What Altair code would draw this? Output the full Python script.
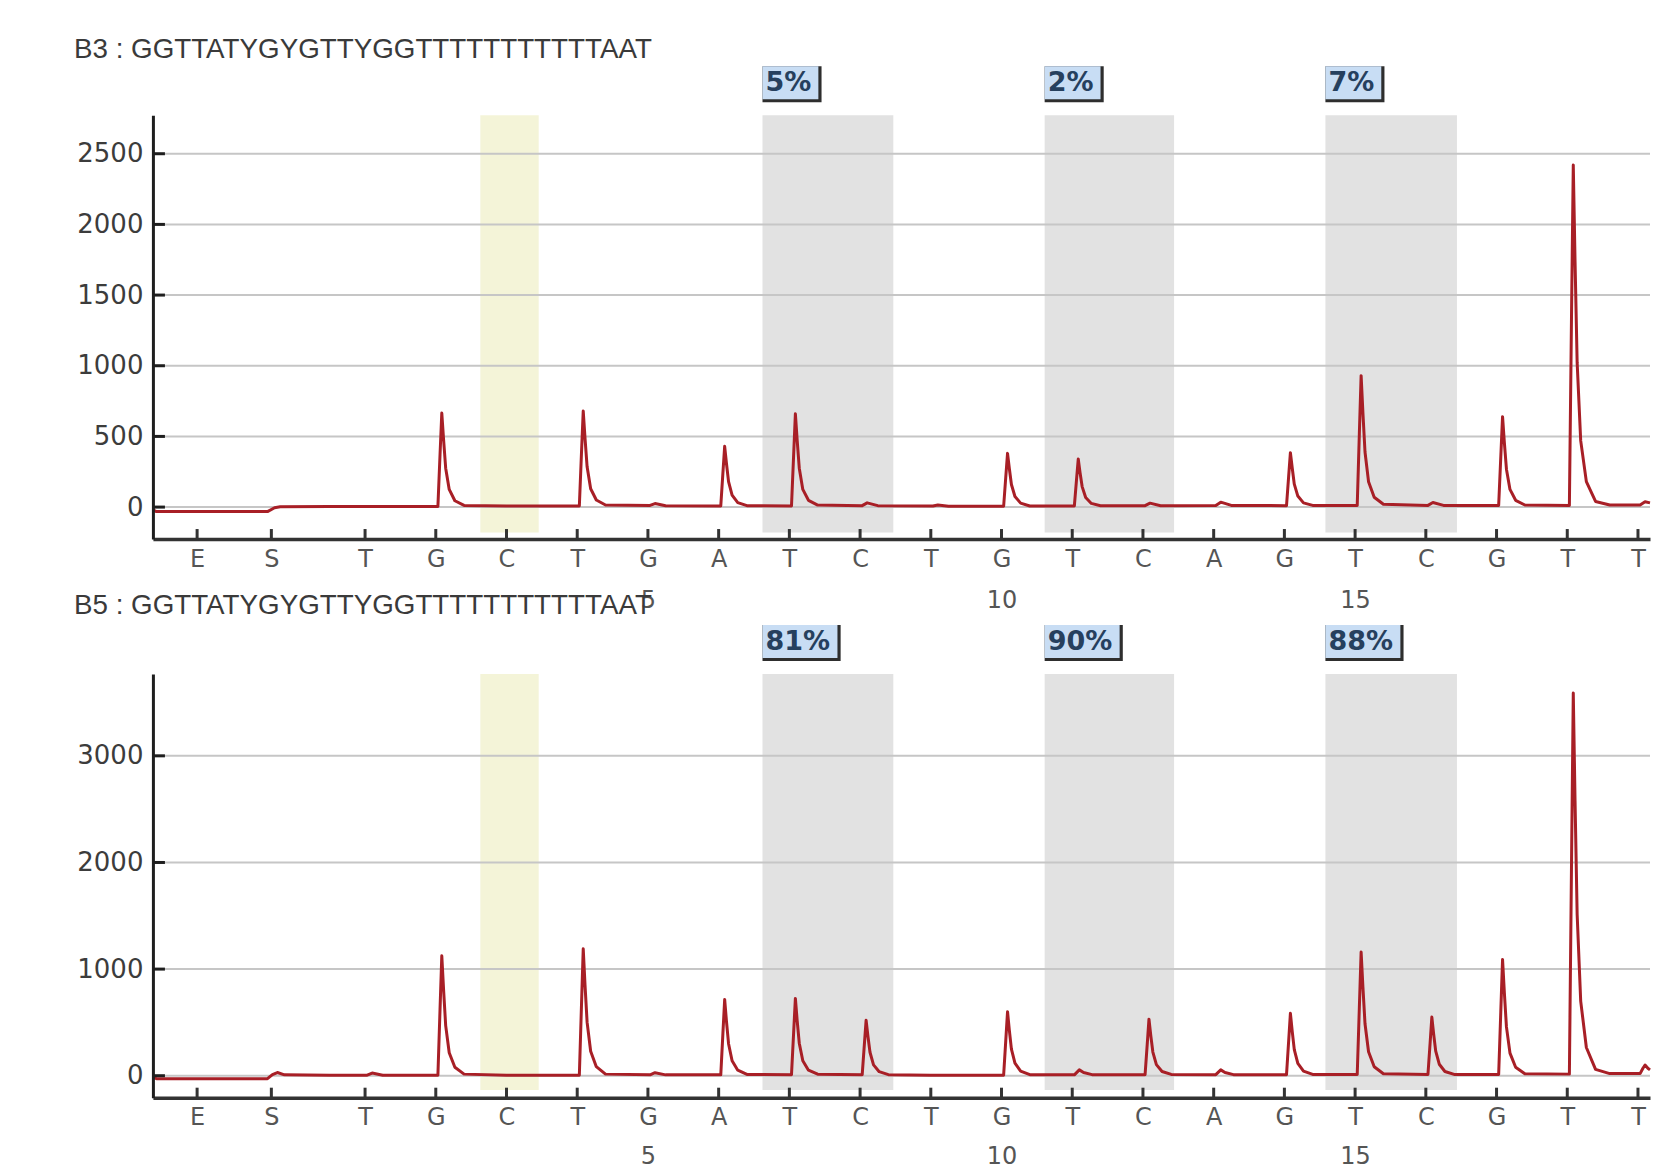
import altair as alt
import pandas as pd

# ---------------- data ----------------
DISP_LABELS = ["E", "S", "T", "G", "C", "T", "G", "A", "T", "C", "T",
               "G", "T", "C", "A", "G", "T", "C", "G", "T", "T"]
DISP_POS = [-1.375, -0.325, 1, 2, 3, 4, 5, 6, 7, 8, 9, 10,
            11, 12, 13, 14, 15, 16, 17, 18, 19]
POS_NUMBERS = [5, 10, 15]

X_DOMAIN = [-2, 19.17]

GRAY_START = [6.62, 10.61, 14.58]
GRAY_END = [8.47, 12.44, 16.44]
YELLOW_START = [2.63]
YELLOW_END = [3.455]

TOP_TITLE = "B3 : GGTTATYGYGTTYGGTTTTTTTTTTTAAT"
BOTTOM_TITLE = "B5 : GGTTATYGYGTTYGGTTTTTTTTTTTAAT"
TOP_PCT = ["5%", "2%", "7%"]
BOTTOM_PCT = ["81%", "90%", "88%"]

TOP_YTICKS = [0, 500, 1000, 1500, 2000, 2500]
BOTTOM_YTICKS = [0, 1000, 2000, 3000]
TOP_YDOMAIN = [-226, 2772]
BOTTOM_YDOMAIN = [-206, 3768]
TOP_SHADE_BOTTOM = -180
BOTTOM_SHADE_BOTTOM = -135

TOP_TRACE = [
    (-2.00, -20), (-1.95, -32), (-0.38, -32), (-0.28, -5), (-0.20, 2), (0.50, 5), (1.00, 5),
    (2.03, 5), (2.06, 370), (2.085, 665), (2.11, 480), (2.14, 275), (2.19, 125), (2.27, 45), (2.40, 12),
    (3.00, 8),
    (4.03, 8), (4.06, 380), (4.085, 680), (4.11, 490), (4.14, 285), (4.19, 130), (4.27, 50), (4.40, 15),
    (5.03, 12), (5.10, 25), (5.25, 10),
    (6.03, 8), (6.06, 240), (6.085, 430), (6.11, 310), (6.14, 180), (6.19, 85), (6.27, 32), (6.40, 10),
    (7.03, 8), (7.06, 365), (7.085, 660), (7.11, 475), (7.14, 275), (7.19, 125), (7.27, 48), (7.40, 14),
    (8.03, 10), (8.10, 30), (8.25, 10),
    (9.03, 8), (9.10, 15), (9.25, 6),
    (10.03, 6), (10.06, 212), (10.085, 380), (10.11, 275), (10.14, 160), (10.19, 75), (10.27, 28), (10.40, 8),
    (11.03, 8), (11.06, 190), (11.085, 340), (11.11, 245), (11.14, 145), (11.19, 68), (11.27, 26), (11.40, 10),
    (12.03, 10), (12.10, 28), (12.25, 10),
    (13.03, 12), (13.10, 35), (13.25, 12),
    (14.03, 10), (14.06, 215), (14.085, 385), (14.11, 280), (14.14, 162), (14.19, 78), (14.27, 30), (14.40, 12),
    (15.03, 12), (15.06, 520), (15.085, 930), (15.11, 670), (15.14, 390), (15.19, 180), (15.27, 70), (15.40, 20),
    (16.03, 12), (16.10, 32), (16.25, 12),
    (17.03, 12), (17.06, 355), (17.085, 640), (17.11, 460), (17.14, 268), (17.19, 125), (17.27, 48), (17.40, 15),
    (18.03, 12), (18.06, 1350), (18.085, 2420), (18.11, 1740), (18.14, 1020), (18.19, 470), (18.27, 180),
    (18.40, 40), (18.60, 15),
    (19.03, 15), (19.10, 38), (19.17, 30),
]

BOTTOM_TRACE = [
    (-2.00, -15), (-1.95, -28), (-0.38, -28), (-0.31, 10), (-0.24, 30), (-0.14, 8), (0.50, 5),
    (1.03, 5), (1.10, 25), (1.25, 5),
    (2.03, 5), (2.06, 620), (2.085, 1125), (2.11, 810), (2.14, 470), (2.19, 215), (2.27, 80), (2.40, 15),
    (3.00, 5),
    (4.03, 5), (4.06, 655), (4.085, 1190), (4.11, 855), (4.14, 500), (4.19, 230), (4.27, 85), (4.40, 15),
    (5.03, 8), (5.10, 28), (5.25, 8),
    (6.03, 8), (6.06, 395), (6.085, 715), (6.11, 515), (6.14, 300), (6.19, 140), (6.27, 52), (6.40, 12),
    (7.03, 10), (7.06, 400), (7.085, 725), (7.11, 520), (7.14, 305), (7.19, 140), (7.27, 52), (7.40, 14),
    (8.03, 10), (8.06, 290), (8.085, 520), (8.11, 375), (8.14, 220), (8.19, 102), (8.27, 38), (8.40, 10),
    (9.00, 5),
    (10.03, 5), (10.06, 330), (10.085, 600), (10.11, 430), (10.14, 250), (10.19, 118), (10.27, 44), (10.40, 10),
    (11.03, 8), (11.10, 55), (11.16, 30), (11.28, 10),
    (12.03, 10), (12.06, 292), (12.085, 530), (12.11, 380), (12.14, 222), (12.19, 104), (12.27, 40), (12.40, 12),
    (13.03, 10), (13.10, 55), (13.16, 30), (13.28, 10),
    (14.03, 10), (14.06, 322), (14.085, 585), (14.11, 420), (14.14, 245), (14.19, 115), (14.27, 43), (14.40, 12),
    (15.03, 12), (15.06, 640), (15.085, 1160), (15.11, 835), (15.14, 487), (15.19, 225), (15.27, 84), (15.40, 18),
    (16.03, 12), (16.06, 302), (16.085, 550), (16.11, 395), (16.14, 230), (16.19, 108), (16.27, 40), (16.40, 12),
    (17.03, 12), (17.06, 600), (17.085, 1090), (17.11, 785), (17.14, 458), (17.19, 212), (17.27, 80), (17.40, 18),
    (18.03, 15), (18.06, 1980), (18.085, 3590), (18.11, 2580), (18.14, 1510), (18.19, 700), (18.27, 265),
    (18.40, 60), (18.60, 20),
    (19.03, 20), (19.07, 70), (19.10, 100), (19.14, 70), (19.17, 55),
]

# ---------------- styling ----------------
PLOT_W = 1498
PLOT_H = 424
TRACE_COLOR = "#a81f26"
GRID_COLOR = "#c6c6c6"
GRAY_FILL = "#e2e2e2"
YELLOW_FILL = "#f4f4d8"
BOX_FILL = "#c8ddf4"
BOX_EDGE = "#2e2e2e"
BOX_TEXT = "#26405e"


def build_label_expr():
    expr = "''"
    for p, lab in reversed(list(zip(DISP_POS, DISP_LABELS))):
        if p in POS_NUMBERS:
            txt = f"['{lab}', '{p}']"
        else:
            txt = f"'{lab}'"
        expr = f"(abs(datum.value - ({p})) < 0.01 ? {txt} : {expr})"
    return expr


LABEL_EXPR = build_label_expr()


def panel(title, title_y, trace, pct, yticks, ydomain, shade_bottom, line_height):
    ymin, ymax = ydomain
    xs = alt.Scale(domain=X_DOMAIN, nice=False, zero=False)
    ys = alt.Scale(domain=ydomain, nice=False, zero=False)
    x_axis = alt.Axis(values=DISP_POS, labelExpr=LABEL_EXPR, ticks=False, grid=False,
                      domainColor="#333333", domainWidth=3.5,
                      labelFont="DejaVu Sans", labelFontSize=24, labelColor="#555555",
                      labelPadding=8, labelLineHeight=line_height,
                      labelOverlap=False, labelFlush=False, labelBound=False,
                      title=None, zindex=1)
    y_axis = alt.Axis(values=yticks, format="d", ticks=False, grid=False,
                      domainColor="#1e1e1e", domainWidth=3,
                      labelFont="DejaVu Sans", labelFontSize=26, labelColor="#3c3c3c",
                      labelPadding=10, labelOverlap=False, labelFlush=False,
                      title=None, zindex=1)

    def X(f):
        return alt.X(f"{f}:Q", scale=xs, axis=x_axis)

    def Y(f):
        return alt.Y(f"{f}:Q", scale=ys, axis=y_axis)

    shade_df = pd.DataFrame(
        [{"x": a, "x2": b, "y": shade_bottom, "y2": ymax, "kind": "gray"}
         for a, b in zip(GRAY_START, GRAY_END)]
        + [{"x": a, "x2": b, "y": shade_bottom, "y2": ymax, "kind": "yellow"}
           for a, b in zip(YELLOW_START, YELLOW_END)]
    )
    shade = alt.Chart(shade_df).mark_rect().encode(
        x=X("x"), x2="x2", y=Y("y"), y2="y2",
        color=alt.Color("kind:N", scale=alt.Scale(domain=["gray", "yellow"],
                                                  range=[GRAY_FILL, YELLOW_FILL]),
                        legend=None),
    )

    grid_df = pd.DataFrame({"y": yticks})
    grid = alt.Chart(grid_df).mark_rule(color=GRID_COLOR, strokeWidth=2).encode(y=Y("y"))

    trace_df = pd.DataFrame(trace, columns=["x", "y"])
    trace_df["i"] = range(len(trace_df))
    line = alt.Chart(trace_df).mark_line(color=TRACE_COLOR, strokeWidth=3,
                                         strokeJoin="round").encode(
        x=X("x"), y=Y("y"), order="i:Q")

    ytick_df = pd.DataFrame({"y": yticks})
    ytick_df["x"] = X_DOMAIN[0]
    ytick_df["x2"] = X_DOMAIN[0] + 0.17
    yt = alt.Chart(ytick_df).mark_rule(color="#1e1e1e", strokeWidth=3).encode(
        x=X("x"), x2="x2", y=Y("y"))

    tick_len = (ymax - ymin) * 10.0 / PLOT_H
    xtick_df = pd.DataFrame({"x": DISP_POS})
    xtick_df["y"] = ymin
    xtick_df["y2"] = ymin + tick_len
    xt = alt.Chart(xtick_df).mark_rule(color="#333333", strokeWidth=3).encode(
        x=X("x"), y=Y("y"), y2="y2")

    box_df = pd.DataFrame({"label": pct, "x": GRAY_START})
    box_df["x2"] = box_df["x"] + box_df["label"].str.len() * 0.27 + 0.295
    box_df["x2f"] = box_df["x2"] - 0.045
    shadow = alt.Chart(box_df).mark_rect(color=BOX_EDGE).encode(
        x=X("x"), x2="x2", y=alt.value(-49), y2=alt.value(-13))
    fill = alt.Chart(box_df).mark_rect(color=BOX_FILL).encode(
        x=X("x"), x2="x2f", y=alt.value(-49), y2=alt.value(-16))
    txt = alt.Chart(box_df).mark_text(align="left", baseline="middle", dx=3,
                                      font="DejaVu Sans", fontSize=27, fontWeight="bold",
                                      color=BOX_TEXT).encode(
        x=X("x"), y=alt.value(-32), text="label:N")

    title_df = pd.DataFrame({"t": [title]})
    ttl = alt.Chart(title_df).mark_text(align="left", baseline="alphabetic",
                                        font="Liberation Sans", fontSize=27.8,
                                        color="#3a3a3a").encode(
        x=alt.value(-79), y=alt.value(title_y), text="t:N")

    return alt.layer(shade, grid, line, yt, xt, shadow, fill, txt, ttl).properties(
        width=PLOT_W, height=PLOT_H,
    )


top = panel(TOP_TITLE, -57, TOP_TRACE, TOP_PCT, TOP_YTICKS, TOP_YDOMAIN, TOP_SHADE_BOTTOM, 42)
bottom = panel(BOTTOM_TITLE, -60, BOTTOM_TRACE, BOTTOM_PCT, BOTTOM_YTICKS, BOTTOM_YDOMAIN,
               BOTTOM_SHADE_BOTTOM, 39)

chart = alt.vconcat(top, bottom, spacing=135, bounds="flush").configure_view(
    stroke=None
).properties(
    padding={"left": 66, "top": 28, "right": 0, "bottom": 0}
)

chart.save("out.html", embed_options={"renderer": "svg", "actions": False})
